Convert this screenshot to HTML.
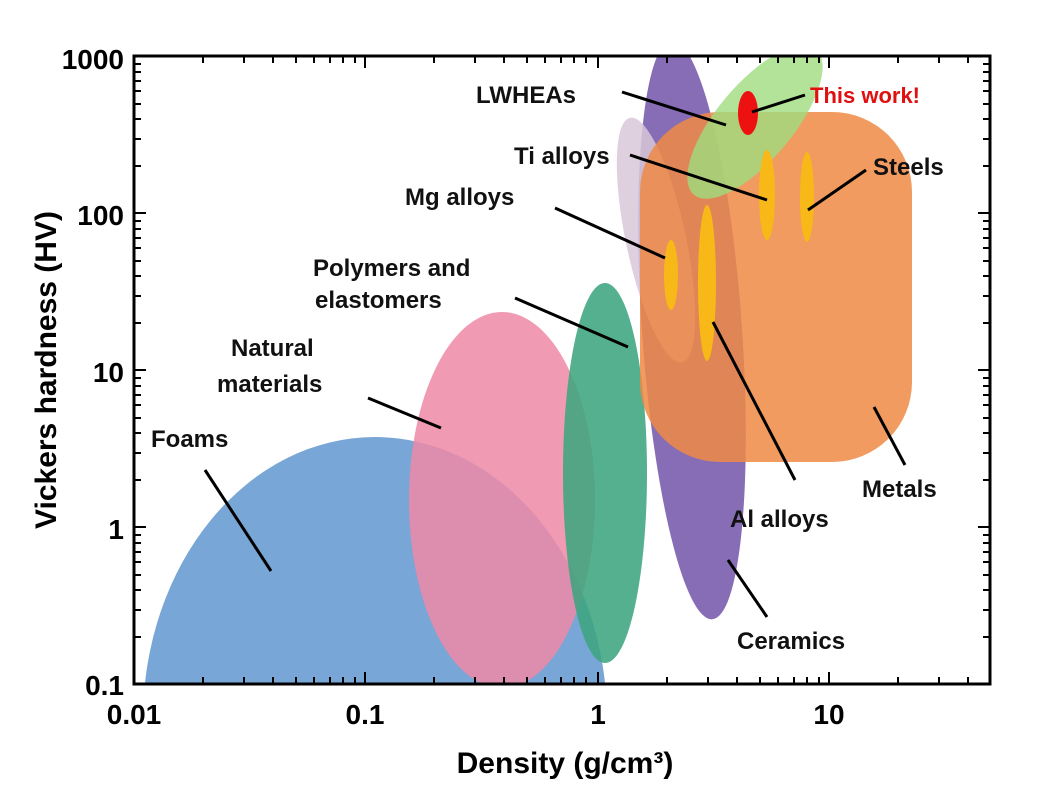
<!DOCTYPE html>
<html><head><style>html,body{margin:0;background:#fff;width:1037px;height:806px;overflow:hidden}svg{display:block}text{font-family:"Liberation Sans",sans-serif;font-weight:bold}</style></head>
<body>
<svg width="1037" height="806" viewBox="0 0 1037 806">
<defs><clipPath id="c"><rect x="134" y="56" width="856" height="628"/></clipPath></defs>
<g clip-path="url(#c)">
<ellipse cx="375" cy="720" rx="232" ry="283" fill="#78a6d6"/>
<ellipse cx="502" cy="500" rx="93" ry="188" fill="#ee88a6" opacity="0.85"/>
<ellipse cx="605" cy="473" rx="42" ry="190" fill="#3da580" opacity="0.88"/>
<ellipse cx="692" cy="330" rx="50" ry="290" fill="#7d5fb0" opacity="0.92" transform="rotate(-4 692 330)"/>
<ellipse cx="656" cy="240" rx="30" ry="125" fill="#d8c8d8" opacity="0.85" transform="rotate(-12 656 240)"/>
<rect x="640" y="112" width="272" height="350" rx="80" fill="#ee8a45" opacity="0.85"/>
<ellipse cx="755" cy="122" rx="38" ry="95" fill="#9fdc80" opacity="0.8" transform="rotate(40 755 122)"/>
<ellipse cx="671" cy="275" rx="7" ry="35" fill="#f8b818"/>
<ellipse cx="707" cy="283" rx="9" ry="78" fill="#f8b818"/>
<ellipse cx="767" cy="195" rx="8" ry="45" fill="#f8b818"/>
<ellipse cx="807" cy="197" rx="7" ry="45" fill="#f8b818"/>
<ellipse cx="748" cy="113" rx="10" ry="22" fill="#ee1111"/>
</g>
<rect x="134" y="56" width="856" height="628" fill="none" stroke="#000" stroke-width="3"/>
<g stroke="#000" stroke-width="2">
<path d="M134 684v-12M365 684v-12M598 684v-12M829 684v-12M134 56v12M365 56v12M598 56v12M829 56v12"/>
<path d="M134 56h12M134 213h12M134 370h12M134 527h12M990 56h-12M990 213h-12M990 370h-12M990 527h-12"/>
<g id="mx">
<path d="M203 684v-7M244 684v-7M273 684v-7M296 684v-7M314 684v-7M330 684v-7M343 684v-7M355 684v-7"/>
<path d="M203 56v7M244 56v7M273 56v7M296 56v7M314 56v7M330 56v7M343 56v7M355 56v7"/>
</g>
<use href="#mx" transform="translate(231 0)"/><use href="#mx" transform="translate(464 0)"/>
<path d="M898 684v-7M939 684v-7M968 684v-7M898 56v7M939 56v7M968 56v7"/>
<g id="my"><path d="M134 637h7M134 610h7M134 590h7M134 575h7M134 562h7M134 552h7M134 543h7M134 535h7M990 637h-7M990 610h-7M990 590h-7M990 575h-7M990 562h-7M990 552h-7M990 543h-7M990 535h-7"/></g>
<use href="#my" transform="translate(0 -157)"/><use href="#my" transform="translate(0 -314)"/><use href="#my" transform="translate(0 -471)"/>
</g>
<g font-size="28" text-anchor="middle">
<text x="134" y="724">0.01</text><text x="365" y="724">0.1</text><text x="598" y="724">1</text><text x="829" y="724">10</text>
</g>
<g font-size="28" text-anchor="end">
<text x="124" y="69">1000</text><text x="124" y="225">100</text><text x="124" y="382">10</text><text x="124" y="539">1</text><text x="124" y="695">0.1</text>
</g>
<text x="565" y="773" font-size="30" text-anchor="middle">Density (g/cm³)</text>
<text transform="translate(56 370) rotate(-90)" font-size="30" text-anchor="middle">Vickers hardness (HV)</text>
<g font-size="24" fill="#111">
<text x="476" y="103">LWHEAs</text>
<text x="810" y="103" fill="#e01010" font-size="22">This work!</text>
<text x="514" y="164">Ti alloys</text>
<text x="873" y="175">Steels</text>
<text x="405" y="205">Mg alloys</text>
<text x="313" y="276">Polymers and</text>
<text x="315" y="308">elastomers</text>
<text x="231" y="356">Natural</text>
<text x="217" y="392">materials</text>
<text x="151" y="447">Foams</text>
<text x="862" y="497">Metals</text>
<text x="730" y="527">Al alloys</text>
<text x="737" y="649">Ceramics</text>
</g>
<g stroke="#000" stroke-width="3" fill="none">
<path d="M622 92L726 125"/><path d="M752 112L805 95"/>
<path d="M630 155L767 200"/><path d="M866 170L808 210"/>
<path d="M555 208L665 258"/><path d="M515 298L628 347"/>
<path d="M368 398L441 428"/><path d="M205 470L271 571"/>
<path d="M874 407L905 465"/><path d="M713 322L795 480"/>
<path d="M728 560L767 617"/>
</g>
</svg>
</body></html>
